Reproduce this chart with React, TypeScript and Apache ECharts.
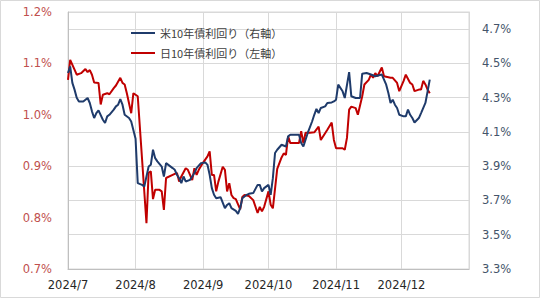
import React, { useEffect, useRef } from "react";
import * as echarts from "echarts";

// Japan 10Y JGB yield (%), left axis — [month/day, value]
const jpYield: [string, number][] = [
  ["7/1", 1.068], ["7/2", 1.107], ["7/4", 1.088], ["7/5", 1.078], ["7/7", 1.081], ["7/9", 1.089],
  ["7/10", 1.083], ["7/11", 1.087], ["7/12", 1.078], ["7/13", 1.063], ["7/15", 1.062], ["7/16", 1.02],
  ["7/17", 1.039], ["7/19", 1.042], ["7/20", 1.04], ["7/22", 1.052], ["7/23", 1.057], ["7/25", 1.072],
  ["7/26", 1.062], ["7/27", 1.059], ["7/28", 1.042], ["7/30", 1.003], ["7/31", 1.042], ["8/2", 1.036],
  ["8/6", 0.789], ["8/7", 0.887], ["8/8", 0.89], ["8/9", 0.836], ["8/10", 0.854], ["8/12", 0.854],
  ["8/13", 0.851], ["8/14", 0.815], ["8/15", 0.877], ["8/18", 0.883], ["8/20", 0.887], ["8/21", 0.87],
  ["8/22", 0.88], ["8/24", 0.896], ["8/25", 0.893], ["8/26", 0.883], ["8/27", 0.873], ["8/28", 0.896],
  ["8/29", 0.883], ["8/30", 0.893], ["9/1", 0.907], ["9/3", 0.919], ["9/4", 0.929], ["9/5", 0.883],
  ["9/6", 0.883], ["9/7", 0.851], ["9/8", 0.87], ["9/10", 0.899], ["9/11", 0.893], ["9/12", 0.851],
  ["9/13", 0.867], ["9/14", 0.844], ["9/15", 0.838], ["9/16", 0.836], ["9/18", 0.816], ["9/19", 0.84],
  ["9/20", 0.844], ["9/22", 0.842], ["9/24", 0.834], ["9/26", 0.809], ["9/27", 0.821], ["9/28", 0.812],
  ["9/29", 0.821], ["10/1", 0.851], ["10/2", 0.825], ["10/3", 0.818], ["10/5", 0.895], ["10/7", 0.917],
  ["10/8", 0.925], ["10/9", 0.922], ["10/10", 0.958], ["10/11", 0.945], ["10/15", 0.945], ["10/16", 0.968],
  ["10/17", 0.945], ["10/18", 0.965], ["10/20", 0.965], ["10/22", 0.966], ["10/24", 0.977], ["10/25", 0.951],
  ["10/28", 0.971], ["10/30", 0.985], ["10/31", 0.951], ["11/1", 0.935], ["11/4", 0.935], ["11/5", 0.932],
  ["11/6", 0.955], ["11/7", 1.01], ["11/8", 1.016], ["11/10", 1.013], ["11/11", 1.0], ["11/13", 1.036],
  ["11/14", 1.059], ["11/16", 1.068], ["11/17", 1.078], ["11/18", 1.072], ["11/19", 1.081], ["11/20", 1.075],
  ["11/22", 1.092], ["11/23", 1.075], ["11/26", 1.072], ["11/27", 1.072], ["11/29", 1.062], ["11/30", 1.046],
  ["12/2", 1.066], ["12/3", 1.078], ["12/5", 1.062], ["12/6", 1.059], ["12/7", 1.046], ["12/9", 1.049],
  ["12/10", 1.049], ["12/11", 1.066], ["12/12", 1.059], ["12/13", 1.049], ["12/14", 1.042],
];

// US 10Y Treasury yield (%), right axis — [month/day, value]
const usYield: [string, number][] = [
  ["7/1", 4.444], ["7/2", 4.483], ["7/3", 4.386], ["7/4", 4.347], ["7/5", 4.3], ["7/6", 4.278],
  ["7/8", 4.278], ["7/10", 4.298], ["7/11", 4.269], ["7/12", 4.22], ["7/13", 4.181], ["7/14", 4.21],
  ["7/15", 4.226], ["7/17", 4.171], ["7/18", 4.152], ["7/19", 4.191], ["7/20", 4.2], ["7/22", 4.23],
  ["7/23", 4.249], ["7/24", 4.259], ["7/25", 4.292], ["7/26", 4.259], ["7/27", 4.2], ["7/29", 4.181],
  ["7/30", 4.161], ["8/1", 4.06], ["8/2", 3.801], ["8/4", 3.791], ["8/5", 3.781], ["8/7", 3.898],
  ["8/8", 3.908], ["8/9", 3.996], ["8/10", 3.947], ["8/11", 3.928], ["8/13", 3.898], ["8/14", 3.84],
  ["8/15", 3.918], ["8/18", 3.889], ["8/19", 3.879], ["8/20", 3.85], ["8/21", 3.83], ["8/22", 3.801],
  ["8/23", 3.84], ["8/24", 3.811], ["8/26", 3.82], ["8/27", 3.84], ["8/28", 3.86], ["8/29", 3.889],
  ["8/31", 3.918], ["9/2", 3.922], ["9/3", 3.908], ["9/4", 3.85], ["9/5", 3.772], ["9/6", 3.733],
  ["9/7", 3.713], ["9/9", 3.719], ["9/11", 3.655], ["9/12", 3.674], ["9/13", 3.684], ["9/14", 3.655],
  ["9/16", 3.639], ["9/17", 3.622], ["9/18", 3.655], ["9/19", 3.713], ["9/21", 3.733], ["9/22", 3.739],
  ["9/24", 3.743], ["9/26", 3.791], ["9/27", 3.791], ["9/28", 3.752], ["9/29", 3.772], ["10/1", 3.791],
  ["10/2", 3.733], ["10/3", 3.83], ["10/4", 3.977], ["10/5", 3.996], ["10/7", 4.025], ["10/9", 4.015],
  ["10/10", 4.074], ["10/11", 4.084], ["10/15", 4.084], ["10/16", 4.035], ["10/17", 4.015], ["10/19", 4.094],
  ["10/21", 4.161], ["10/22", 4.2], ["10/23", 4.234], ["10/24", 4.21], ["10/25", 4.24], ["10/27", 4.249],
  ["10/28", 4.269], ["10/30", 4.272], ["10/31", 4.278], ["11/1", 4.288], ["11/2", 4.376], ["11/4", 4.337],
  ["11/5", 4.298], ["11/7", 4.449], ["11/8", 4.308], ["11/10", 4.298], ["11/12", 4.298], ["11/13", 4.44],
  ["11/15", 4.444], ["11/17", 4.435], ["11/19", 4.425], ["11/22", 4.435], ["11/24", 4.376], ["11/25", 4.327],
  ["11/26", 4.269], ["11/27", 4.288], ["11/28", 4.259], ["11/29", 4.24], ["11/30", 4.2], ["12/2", 4.191],
  ["12/3", 4.191], ["12/4", 4.23], ["12/5", 4.2], ["12/6", 4.181], ["12/7", 4.155], ["12/9", 4.181],
  ["12/10", 4.21], ["12/12", 4.269], ["12/13", 4.337], ["12/14", 4.405],
];

const seriesNames = ["米10年債利回り（右軸）", "日10年債利回り（左軸）"];
const leftTicks = { min: 0.7, max: 1.2, interval: 0.1 };
const rightTicks = { min: 3.3, max: 4.8, interval: 0.2 };
const startDate = [2024, 7, 1];
const endDate = [2025, 1, 1];

function buildCategories(): string[] {
  const out: string[] = [];
  const d = new Date(startDate[0], startDate[1] - 1, startDate[2]);
  const end = new Date(endDate[0], endDate[1] - 1, endDate[2]);
  while (d <= end) {
    out.push(`${d.getFullYear()}/${d.getMonth() + 1}/${d.getDate()}`);
    d.setDate(d.getDate() + 1);
  }
  return out;
}

const toPoints = (arr: [string, number][]) => arr.map(([md, v]) => [`2024/${md}`, v]);

export default function App() {
  const ref = useRef<HTMLDivElement>(null);
  useEffect(() => {
    if (!ref.current) return;
    const chart = echarts.init(ref.current, null, { renderer: "svg" });
    const categories = buildCategories();
    const isMonthStart = (_i: number, v: string) => v.endsWith("/1") && !v.startsWith("2025");
    const isMonthLine = (_i: number, v: string) => v.endsWith("/1");
    const num = "DejaVu Sans";
    chart.setOption({
      animation: false,
      backgroundColor: "#ffffff",
      textStyle: { fontFamily: num },
      graphic: [
        {
          type: "rect",
          shape: { x: 0.5, y: 0.5, width: 539, height: 297 },
          style: { fill: "none", stroke: "#d9d9d9", lineWidth: 1 },
          silent: true,
        },
      ],
      grid: {
        left: 68, right: 71, top: 12, bottom: 29,
        show: true, borderColor: "#d9d9d9", borderWidth: 1, backgroundColor: "transparent",
      },
      legend: {
        data: seriesNames,
        orient: "vertical",
        left: 131,
        top: 26,
        padding: 0,
        icon: "path://M0 0H24V2H0Z",
        itemWidth: 24,
        itemHeight: 14,
        itemGap: 6,
        textStyle: { fontFamily: "Noto Sans CJK JP", fontSize: 11, color: "#404040", lineHeight: 14 },
      },
      xAxis: {
        type: "category",
        data: categories,
        boundaryGap: false,
        axisTick: { show: false },
        axisLine: { lineStyle: { color: "#bfbfbf", width: 1 } },
        axisLabel: {
          interval: isMonthStart,
          formatter: (v: string) => v.split("/").slice(0, 2).join("/"),
          color: "#262626",
          fontFamily: num,
          fontSize: 11.5,
          margin: 10,
        },
        splitLine: { show: true, interval: isMonthLine, lineStyle: { color: "#d9d9d9", width: 1 } },
      },
      yAxis: [
        {
          type: "value",
          position: "left",
          min: leftTicks.min,
          max: leftTicks.max,
          interval: leftTicks.interval,
          splitLine: { show: false },
          axisTick: { show: false },
          axisLine: { show: true, lineStyle: { color: "#bfbfbf" } },
          axisLabel: {
            formatter: (v: number) => v.toFixed(1) + "%",
            color: "#c0504d",
            fontFamily: num,
            fontSize: 11.5,
            margin: 16,
          },
        },
        {
          type: "value",
          position: "right",
          min: rightTicks.min,
          max: rightTicks.max,
          interval: rightTicks.interval,
          splitLine: { show: true, lineStyle: { color: "#d9d9d9", width: 1 } },
          axisTick: { show: false },
          axisLine: { show: true, lineStyle: { color: "#d9d9d9" } },
          axisLabel: {
            showMaxLabel: false,
            formatter: (v: number) => (Math.abs(v - rightTicks.max) < 1e-6 ? "" : v.toFixed(1) + "%"),
            color: "#44546a",
            fontFamily: num,
            fontSize: 11.5,
            margin: 13,
          },
        },
      ],
      series: [
        {
          name: seriesNames[1],
          type: "line",
          yAxisIndex: 0,
          data: toPoints(jpYield),
          symbol: "none",
          lineStyle: { color: "#c00000", width: 2 },
          itemStyle: { color: "#c00000" },
        },
        {
          name: seriesNames[0],
          type: "line",
          yAxisIndex: 1,
          data: toPoints(usYield),
          symbol: "none",
          lineStyle: { color: "#1f3b6b", width: 2 },
          itemStyle: { color: "#1f3b6b" },
        },
      ],
    });
    return () => chart.dispose();
  }, []);
  return (
    <div
      ref={ref}
      style={{ position: "absolute", left: 0, top: 0, width: 540, height: 298, background: "#fff" }}
    />
  );
}
